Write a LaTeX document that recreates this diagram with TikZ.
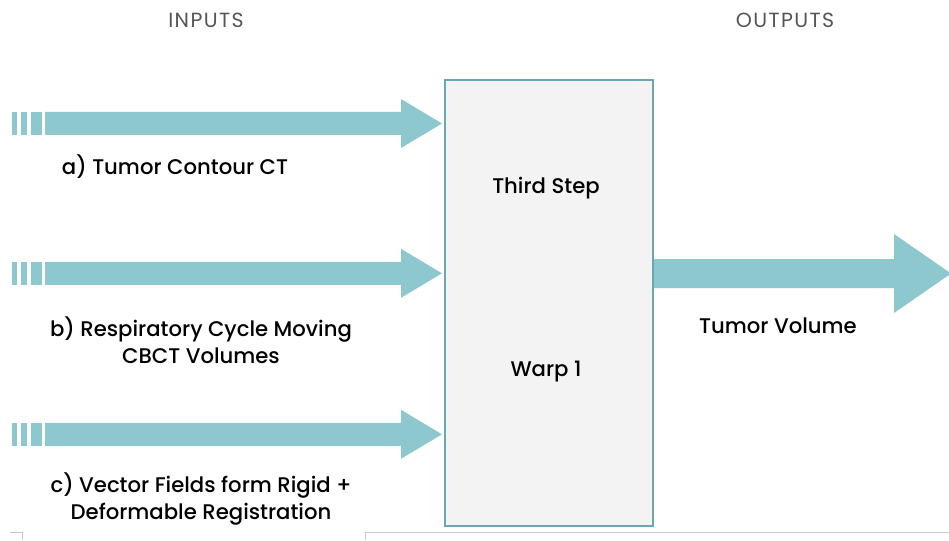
\documentclass[tikz,border=0pt]{standalone}
\usepackage{fontspec}
\setmainfont{Poppins}[UprightFont=* Medium]
\newfontfamily\headfont{Poppins}[LetterSpace=7]
\begin{document}
\begin{tikzpicture}[x=1pt,y=-1pt,
  flow/.style={fill=arrowteal},
  stage/.style={draw=boxedge, line width=2pt, fill=boxfill, minimum width=208pt, minimum height=446pt, inner sep=0pt},
  label/.style={font=\fontsize{21.2}{26.5}\selectfont, align=center, inner sep=0pt, text=black},
  header/.style={font=\headfont\fontsize{20.5}{24}\selectfont, text=headgray, inner sep=0pt},
  edge/.style={draw=edgegray, line width=0.6pt}]
\definecolor{arrowteal}{HTML}{8DC8CE}
\definecolor{boxedge}{HTML}{6AA6B3}
\definecolor{boxfill}{HTML}{F3F3F3}
\definecolor{headgray}{HTML}{555555}
\definecolor{edgegray}{HTML}{C8C8C8}
\useasboundingbox (0,0) rectangle (949,540);

% headings
\node[header] (inputs) at (206,20) {INPUTS};
\node[header] (outputs) at (785,20) {OUTPUTS};

% central processing box
\node[stage] (proc) at (549,303) {};
\node[label] (third) at (546,188.5) {Third Step};
\node[label] (warp) at (546,372) {Warp 1};

% input arrow anchors
\coordinate (inA) at (12,123.5);
\coordinate (inB) at (12,273.3);
\coordinate (inC) at (12,434.3);

% striped-tail block arrows from each anchor to the box
\foreach \src in {inA,inB,inC}{
  \path (\src) coordinate (s0) (\src -| proc.west) coordinate (t0);
  \fill[flow] ([shift={(0,-11.5)}]s0) rectangle ([shift={(4.5,11.5)}]s0);
  \fill[flow] ([shift={(8.5,-11.5)}]s0) rectangle ([shift={(15,11.5)}]s0);
  \fill[flow] ([shift={(18.5,-11.5)}]s0) rectangle ([shift={(29.5,11.5)}]s0);
  \fill[flow] ([shift={(33,-11.5)}]s0) -- ([shift={(-43,-11.5)}]t0) -- ([shift={(-43,-24.5)}]t0)
     -- ([shift={(-2,0)}]t0) -- ([shift={(-43,24.5)}]t0) -- ([shift={(-43,11.5)}]t0)
     -- ([shift={(33,11.5)}]s0) -- cycle;
}

% output arrow from the box
\coordinate (outTip) at (951,273.5);
\fill[flow] (proc.east |- 0,259) -- (894,259) -- (894,234) -- (outTip) -- (894,313) -- (894,288) -- (proc.east |- 0,288) -- cycle;
\node[label] (tv) at (778,326) {Tumor Volume};

% input labels
\node[label] (la) at (175,167) {a) Tumor Contour CT};
\node[label] (lb) at (201,340) {b) Respiratory Cycle Moving\\CBCT Volumes};
\node[label] (lc) at (201,499) {c) Vector Fields form Rigid +\\Deformable Registration};

% faint page edges along the bottom
\coordinate (e1) at (10,532);
\coordinate (e2) at (22,532);
\coordinate (e3) at (365,532);
\coordinate (e4) at (949,532);
\draw[edge] (e1) -- (e2) -- ++(0,8);
\draw[edge] (e4) -- (e3) -- ++(0,8);
\end{tikzpicture}
\end{document}
